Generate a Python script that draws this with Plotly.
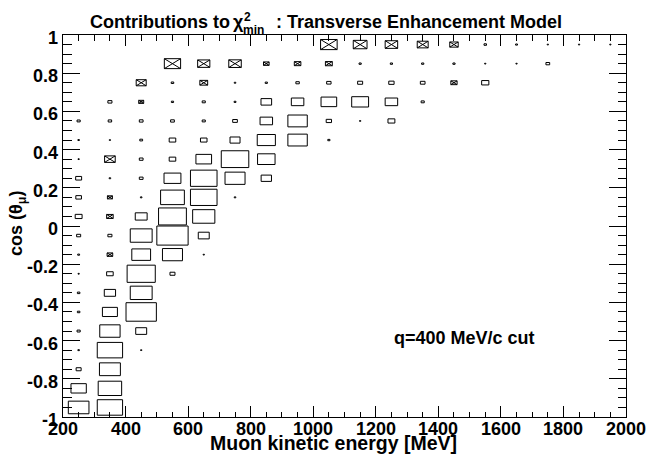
import plotly.graph_objects as go

# ---------------- data ----------------
# bin centres
x_centers = [250, 350, 450, 550, 650, 750, 850, 950, 1050, 1150, 1250, 1350,
             1450, 1550, 1650, 1750, 1850, 1950]
y_centers = [0.95, 0.85, 0.75, 0.65, 0.55, 0.45, 0.35, 0.25, 0.15, 0.05,
             -0.05, -0.15, -0.25, -0.35, -0.45, -0.55, -0.65, -0.75, -0.85, -0.95]
bin_w = 100
bin_h = 0.1

# relative chi2 contributions (negative values drawn as crossed boxes), rows top -> bottom
row_p95 = [0, 0, 0, 0, 0, 0, 0, 0, -0.53, -0.44, -0.40, -0.35, -0.27, 0.08, 0.06, 0.04, 0.04, 0.04]
row_p85 = [0, 0, 0, -0.52, -0.39, -0.40, -0.18, -0.21, -0.22, 0.07, 0.07, 0.07, 0.07, 0.04, 0.04, 0.12, 0, 0]
row_p75 = [0, 0, -0.32, 0.08, -0.25, 0.05, 0.07, 0.11, 0.14, 0.16, 0.17, 0.15, -0.20, 0.23, 0, 0, 0, 0]
row_p65 = [0, 0.13, -0.16, 0.07, 0.10, 0.06, 0.34, 0.40, 0.50, 0.54, 0.40, 0.10, 0, 0, 0, 0, 0, 0]
row_p55 = [0.10, 0.11, 0.12, 0.12, 0.10, 0.15, 0.40, 0.62, 0.17, 0.04, 0.22, 0, 0, 0, 0, 0, 0, 0]
row_p45 = [0.05, 0.04, 0.09, 0.21, 0.21, 0.32, 0.58, 0.62, 0.07, 0, 0, 0, 0, 0, 0, 0, 0, 0]
row_p35 = [0.04, -0.34, 0.12, 0.21, 0.50, 0.88, 0.56, 0, 0, 0, 0, 0, 0, 0, 0, 0, 0, 0]
row_p25 = [0.19, 0.05, 0.12, 0.54, 0.85, 0.64, 0.33, 0, 0, 0, 0, 0, 0, 0, 0, 0, 0, 0]
row_p15 = [0.18, -0.16, 0.05, 0.76, 0.85, 0.05, 0, 0, 0, 0, 0, 0, 0, 0, 0, 0, 0, 0]
row_p05 = [0.22, -0.21, 0.38, 0.89, 0.71, 0, 0, 0, 0, 0, 0, 0, 0, 0, 0, 0, 0, 0]
row_m05 = [0.13, 0.13, 0.70, 1.00, 0.35, 0, 0, 0, 0, 0, 0, 0, 0, 0, 0, 0, 0, 0]
row_m15 = [0.06, -0.18, 0.60, 0.64, 0.04, 0, 0, 0, 0, 0, 0, 0, 0, 0, 0, 0, 0, 0]
row_m25 = [0.04, 0.21, 0.90, 0.16, 0, 0, 0, 0, 0, 0, 0, 0, 0, 0, 0, 0, 0, 0]
row_m35 = [0.08, 0.36, 0.70, 0, 0, 0, 0, 0, 0, 0, 0, 0, 0, 0, 0, 0, 0, 0]
row_m45 = [0.08, 0.48, 0.97, 0, 0, 0, 0, 0, 0, 0, 0, 0, 0, 0, 0, 0, 0, 0]
row_m55 = [0.10, 0.65, 0.35, 0, 0, 0, 0, 0, 0, 0, 0, 0, 0, 0, 0, 0, 0, 0]
row_m65 = [0.05, 0.81, 0.04, 0, 0, 0, 0, 0, 0, 0, 0, 0, 0, 0, 0, 0, 0, 0]
row_m75 = [0.16, 0.67, 0, 0, 0, 0, 0, 0, 0, 0, 0, 0, 0, 0, 0, 0, 0, 0]
row_m85 = [0.49, 0.75, 0, 0, 0, 0, 0, 0, 0, 0, 0, 0, 0, 0, 0, 0, 0, 0]
row_m95 = [0.66, 0.81, 0, 0, 0, 0, 0, 0, 0, 0, 0, 0, 0, 0, 0, 0, 0, 0]
contrib = [row_p95, row_p85, row_p75, row_p65, row_p55, row_p45, row_p35, row_p25,
           row_p15, row_p05, row_m05, row_m15, row_m25, row_m35, row_m45, row_m55,
           row_m65, row_m75, row_m85, row_m95]

x_ticks = [200, 400, 600, 800, 1000, 1200, 1400, 1600, 1800, 2000]
x_tick_labels = ["200", "400", "600", "800", "1000", "1200", "1400", "1600", "1800", "2000"]
y_ticks = [-1, -0.8, -0.6, -0.4, -0.2, 0, 0.2, 0.4, 0.6, 0.8, 1]
y_tick_labels = ["-1", "-0.8", "-0.6", "-0.4", "-0.2", "0", "0.2", "0.4", "0.6", "0.8", "1"]

title_main = "Contributions to"
title_chi = "\u03c7"
title_sup = "2"
title_sub = "min"
title_rest = ": Transverse Enhancement Model"
x_title = "Muon kinetic energy [MeV]"
y_title = "cos (\u03b8<sub>\u03bc</sub>)"
note = "q=400 MeV/c cut"

# ---------------- build boxes ----------------
vmax = max(abs(v) for row in contrib for v in row)
bx, by, cx, cy = [], [], [], []
for j, yc in enumerate(y_centers):
    for i, xc in enumerate(x_centers):
        v = contrib[j][i]
        if v == 0:
            continue
        f = abs(v) / vmax
        hw = f * bin_w / 2
        hh = f * bin_h / 2
        x0, x1, y0, y1 = xc - hw, xc + hw, yc - hh, yc + hh
        bx += [x0, x1, x1, x0, x0, None]
        by += [y0, y0, y1, y1, y0, None]
        if v < 0:
            cx += [x0, x1, None, x0, x1, None]
            cy += [y0, y1, None, y1, y0, None]

fig = go.Figure()
fig.add_trace(go.Scatter(x=bx, y=by, mode="lines", line=dict(color="black", width=1),
                         hoverinfo="skip", showlegend=False))
fig.add_trace(go.Scatter(x=cx, y=cy, mode="lines", line=dict(color="black", width=1),
                         hoverinfo="skip", showlegend=False))

W, H = 646, 455
L, R, T, B = 63, 20, 35, 38
pw, ph = W - L - R, H - T - B


def px(xp):
    return (xp - L) / pw


def py(yp):
    return (H - B - yp) / ph


FONT = "Liberation Sans, Arial, Helvetica, sans-serif"
bold = dict(family=FONT, size=18, color="black", weight="bold")
small = dict(family=FONT, size=12, color="black", weight="bold")
xt_font = dict(family=FONT, size=19.5, color="black", weight="bold")

fig.update_layout(
    width=W, height=H,
    margin=dict(l=L, r=R, t=T, b=B, autoexpand=False),
    paper_bgcolor="white", plot_bgcolor="white",
    font=dict(family=FONT, color="black"),
    showlegend=False,
)
fig.update_xaxes(
    range=[200, 2000], tickmode="array", tickvals=x_ticks, showticklabels=False,
    ticks="inside", ticklen=11, tickwidth=1, tickcolor="black",
    showline=True, linecolor="black", linewidth=1, mirror="ticks",
    showgrid=False, zeroline=False,
    minor=dict(dtick=50, tick0=200, ticks="inside", ticklen=5.5, tickcolor="black",
               tickwidth=1, showgrid=False),
)
fig.update_yaxes(
    range=[-1, 1], tickmode="array", tickvals=y_ticks, showticklabels=False,
    ticks="inside", ticklen=17, tickwidth=1, tickcolor="black",
    showline=True, linecolor="black", linewidth=1, mirror="ticks",
    showgrid=False, zeroline=False,
    minor=dict(dtick=0.05, tick0=-1, ticks="inside", ticklen=8.5, tickcolor="black",
               tickwidth=1, showgrid=False),
)

ann = [
    dict(text=title_main, x=px(88), y=py(22), xanchor="left", yanchor="middle", font=bold),
    dict(text=title_chi, x=px(231), y=py(22), xanchor="left", yanchor="middle", font=bold),
    dict(text=title_sup, x=px(242), y=py(17), xanchor="left", yanchor="middle", font=small),
    dict(text=title_sub, x=px(241), y=py(30), xanchor="left", yanchor="middle", font=small),
    dict(text=title_rest, x=px(274), y=py(22), xanchor="left", yanchor="middle", font=bold),
    dict(text=x_title, x=px(333), y=py(443), xanchor="center", yanchor="middle", font=xt_font),
    dict(text=y_title, x=px(17), y=py(224), xanchor="center", yanchor="middle",
         textangle=-90, font=bold),
    dict(text=note, x=px(392), y=py(338), xanchor="left", yanchor="middle", font=bold),
]
for a in ann:
    a.update(xref="paper", yref="paper", showarrow=False)

# tick labels placed through the axis scales
for v, t in zip(x_ticks, x_tick_labels):
    ann.append(dict(text=t, x=v, xref="x", y=py(428.5), yref="paper", xanchor="center",
                    yanchor="middle", showarrow=False, font=bold))
for v, t in zip(y_ticks, y_tick_labels):
    ann.append(dict(text=t, x=px(60), xref="paper", y=v, yref="y", yshift=-3,
                    xanchor="right", yanchor="middle", showarrow=False, font=bold))

fig.update_layout(annotations=ann)

fig.write_html("out.html", post_script="document.body.style.margin='0';",
               config={"displayModeBar": False})
